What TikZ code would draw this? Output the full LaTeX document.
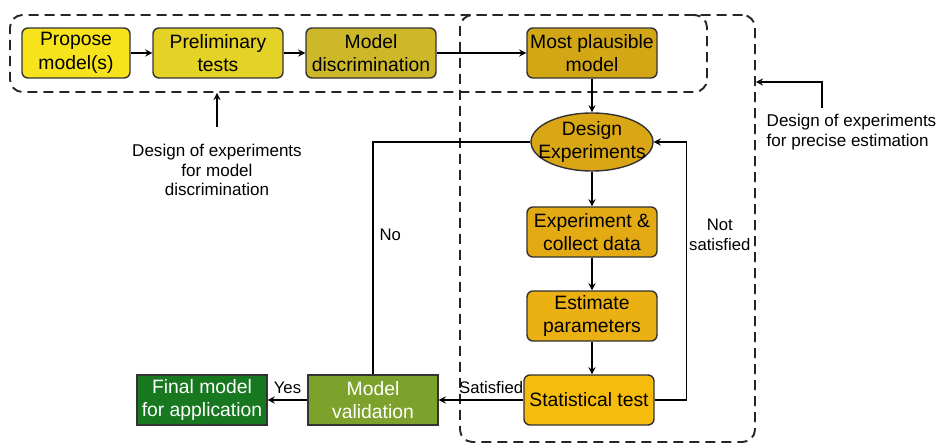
\documentclass[tikz,border=0pt]{standalone}
\usepackage{fontspec}
\setmainfont{Liberation Sans}
\usepackage{xcolor}
\usepackage{tikz}
\usetikzlibrary{calc,positioning,arrows,fit,shapes}
\usetikzlibrary{shapes.geometric, arrows}
\definecolor{propfill}{HTML}{F7E31B}
\definecolor{prelfill}{HTML}{E4D226}
\definecolor{discfill}{HTML}{CDB829}
\definecolor{mostfill}{HTML}{D3A615}
\definecolor{desfill}{HTML}{D9A616}
\definecolor{expfill}{HTML}{E3AA14}
\definecolor{estfill}{HTML}{EBB012}
\definecolor{statfill}{HTML}{F5BC0C}
\definecolor{validfill}{HTML}{7DA22C}
\definecolor{finalfill}{HTML}{17781F}
\tikzstyle{stepbox} = [rectangle, rounded corners=0.12cm, minimum width=2.6cm, minimum height=1cm, inner sep=1pt, align=center, text centered, draw=black!80, line width=0.8pt, font=\fontsize{11}{13.5}\selectfont]
\tikzstyle{plainbox} = [rectangle, minimum width=2.6cm, minimum height=1cm, inner sep=1pt, align=center, text centered, draw=black!80, line width=0.8pt, font=\fontsize{11}{13.5}\selectfont]
\tikzstyle{oval} = [ellipse, minimum width=2.44cm, minimum height=1.16cm, inner sep=0pt, draw=black!80, line width=0.8pt, fill=desfill]
\tikzstyle{groupbox} = [rectangle, rounded corners=0.25cm, draw=black!85, line width=1.1pt, dash pattern=on 0.2cm off 0.12cm]
\tikzstyle{note} = [align=center, font=\fontsize{9.7}{11.3}\selectfont]
\tikzstyle{tag} = [font=\fontsize{9.5}{11}\selectfont]
\tikzstyle{arrow} = [line width=0.8pt,->,>=stealth]
\tikzstyle{line} = [line width=0.8pt]

\begin{document}
\begin{tikzpicture}[node distance=1.2cm]
      \useasboundingbox (0,0) rectangle (18.72,-8.92);
      % dashed groups
      \node (grpdisc) [groupbox, minimum width=13.94cm, minimum height=1.54cm] at (7.17,-1.07) {};
      \node (grpest) [groupbox, minimum width=5.9cm, minimum height=8.54cm] at (12.15,-4.57) {};

      % top row
      \node (propose) [stepbox, fill=propfill, minimum width=2.16cm] at (1.52,-1.06) {Propose\\model(s)};
      \node (prelim) [stepbox, fill=prelfill, right of=propose, xshift=1.64cm] {Preliminary\\tests};
      \node (discrim) [stepbox, fill=discfill, right of=prelim, xshift=1.86cm] {Model\\discrimination};
      \node (most) [stepbox, fill=mostfill, right of=discrim, xshift=3.22cm] {Most plausible\\model};

      % estimation loop
      \node (design) [oval, below of=most, yshift=-0.58cm, label={[align=center, font=\fontsize{11}{13.5}\selectfont]center:Design\\Experiments}] {};
      \node (exp) [stepbox, fill=expfill, below of=design, yshift=-0.6cm] {Experiment \&\\collect data};
      \node (est) [stepbox, fill=estfill, below of=exp, yshift=-0.48cm] {Estimate\\parameters};
      \node (stat) [stepbox, fill=statfill, below of=est, yshift=-0.48cm, xshift=-0.06cm] {Statistical test};

      % bottom row
      \node (valid) [plainbox, fill=validfill, text=white, left of=stat, xshift=-3.12cm] {Model\\validation};
      \node (final) [plainbox, fill=finalfill, text=white, left of=valid, xshift=-2.22cm] {Final model\\for application};

      % notes
      \node (notedisc) [note] at (4.34,-3.4) {Design of experiments\\for model\\discrimination};
      \node (noteest) [note, align=left, anchor=west] at (15.21,-2.64) {Design of experiments\\for precise estimation};
      \coordinate (kink) at (16.44,-1.64);

      \draw [arrow] (propose) -- (prelim);
      \draw [arrow] (prelim) -- (discrim);
      \draw [arrow] (discrim) -- (most);
      \draw [arrow] (most) -- (design);
      \draw [arrow] (design) -- (exp);
      \draw [arrow] (exp) -- (est);
      \draw [arrow] (est) -- (est |- stat.north);
      \draw [arrow] (stat) -- node[tag, above, pos=0.38] {Satisfied} (valid);
      \draw [arrow] (valid) -- node[tag, above] {Yes} (final);
      \draw [line] (design.west) -| node[tag, right, pos=0.7] {No} (valid.north);
      \draw [arrow] (stat.east) -- ++(0.64,0) |- node[tag, right, pos=0.32, align=center, inner sep=1pt] {Not\\satisfied} (design.east);

      \draw [arrow] ([yshift=0.22cm]notedisc.north) -- (notedisc.north |- grpdisc.south);
      \draw [arrow] (noteest.north -| kink) -- (kink) -- (grpest.east |- kink);

    \end{tikzpicture}
\end{document}
